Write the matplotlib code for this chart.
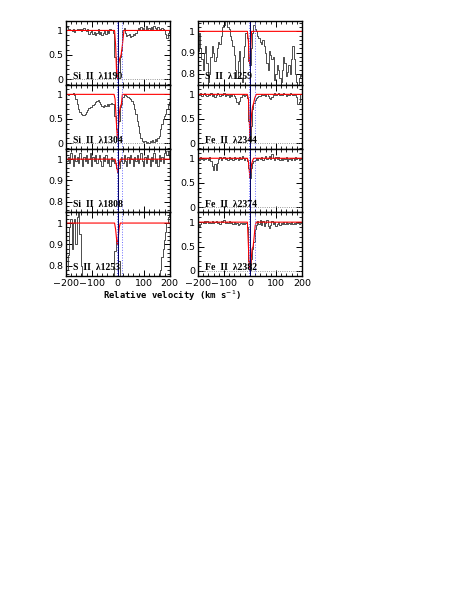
import numpy as np
import matplotlib
matplotlib.use("Agg")
import matplotlib.pyplot as plt
from matplotlib.ticker import MultipleLocator, FuncFormatter

# velocity grid of the spectra (km/s), 5 km/s pixels
vel = np.arange(-200, 205, 5)

# normalised flux, one list per transition
si1190 = [1.05, 1.08, 1.0, 1.03, 1.0, 0.98, 1.02, 0.97, 1.0, 1.04, 1.0, 1.03, 0.99, 1.02, 1.05, 1.0, 0.98,
          1.02, 0.93, 0.97, 1.0, 0.92, 0.96, 0.9, 0.95, 1.02, 0.92, 0.97, 0.9, 0.94, 0.98, 0.92, 1.0, 0.95,
          1.02, 1.0, 1.0, 0.95, 0.45, 0.05, 0.0, 0.15, 0.45, 0.6, 1.0, 1.05, 0.95, 0.88, 0.9, 0.92, 0.86,
          0.88, 0.92, 0.9, 0.94, 1.0, 1.05, 1.0, 1.08, 1.02, 1.05, 1.0, 1.1, 1.03, 1.06, 1.0, 1.08, 1.02,
          1.1, 1.05, 1.0, 1.08, 1.03, 1.0, 1.05, 1.02, 1.0, 0.92, 0.85, 0.95, 1.0]
si1304 = [1.0, 1.0, 0.99, 1.0, 1.0, 1.01, 1.02, 0.98, 0.9, 0.8, 0.7, 0.63, 0.6, 0.58, 0.58, 0.6, 0.63,
          0.68, 0.72, 0.75, 0.74, 0.78, 0.8, 0.84, 0.86, 0.88, 0.85, 0.8, 0.76, 0.74, 0.78, 0.76, 0.8,
          0.77, 0.8, 0.82, 0.8, 0.8, 0.55, 0.3, 0.15, 0.45, 0.75, 0.8, 0.95, 1.0, 0.98, 0.96, 0.95, 0.93,
          0.9, 0.86, 0.8, 0.7, 0.6, 0.45, 0.35, 0.2, 0.1, 0.05, 0.02, 0.04, 0.0, 0.03, 0.01, 0.05, 0.02,
          0.06, 0.03, 0.08, 0.05, 0.1, 0.15, 0.28, 0.4, 0.5, 0.55, 0.6, 0.7, 0.78, 0.85]
si1808 = [1.02, 0.99, 1.01, 0.98, 1.03, 1.0, 0.97, 1.02, 0.99, 1.01, 0.98, 1.03, 1.0, 0.97, 1.01, 0.99,
          1.02, 0.98, 1.0, 1.03, 0.97, 1.01, 0.99, 1.02, 0.98, 1.0, 1.02, 0.99, 0.97, 1.01, 0.99, 1.02,
          0.98, 1.0, 0.97, 1.01, 0.99, 1.0, 0.98, 0.96, 0.94, 0.96, 0.99, 1.01, 0.98, 1.02, 0.99, 0.97,
          1.01, 0.98, 1.02, 1.0, 0.97, 1.01, 0.99, 1.02, 0.98, 1.0, 1.03, 0.99, 0.97, 1.01, 0.98, 1.02,
          1.0, 0.97, 1.01, 0.99, 1.03, 0.98, 1.0, 0.97, 1.02, 0.99, 1.01, 0.98, 1.03, 1.04, 1.02, 1.04, 1.0]
s1253 = [0.8, 0.78, 0.85, 0.98, 1.02, 0.88, 1.0, 1.02, 0.9, 1.03, 1.06, 0.95, 0.8, 0.65, 0.6, 0.6, 0.6,
         0.6, 0.6, 0.6, 0.6, 0.6, 0.6, 0.6, 0.6, 0.6, 0.6, 0.6, 0.6, 0.6, 0.6, 0.6, 0.6, 0.6, 0.6, 0.6,
         0.6, 0.7, 0.87, 0.92, 0.9, 0.82, 0.74, 0.6, 0.6, 0.6, 0.6, 0.6, 0.6, 0.6, 0.6, 0.6, 0.6, 0.6,
         0.6, 0.6, 0.6, 0.6, 0.6, 0.6, 0.6, 0.6, 0.6, 0.6, 0.6, 0.6, 0.6, 0.6, 0.6, 0.6, 0.6, 0.6, 0.7,
         0.78, 0.84, 0.88, 0.92, 0.96, 1.0, 1.03, 1.05]
s1259 = [0.91, 0.99, 0.92, 0.87, 0.82, 0.9, 0.93, 0.85, 0.76, 0.8, 0.88, 0.93, 0.9, 0.86, 0.88, 0.92,
         0.95, 0.94, 0.98, 1.02, 1.03, 1.06, 1.05, 1.02, 1.01, 0.98, 0.96, 0.93, 0.89, 0.82, 0.78, 0.86,
         0.91, 0.78, 0.76, 0.88, 0.93, 0.99, 0.97, 0.86, 0.84, 0.92, 0.99, 1.03, 1.01, 1.0, 0.98, 0.97,
         0.95, 0.94, 0.96, 0.93, 0.9, 0.85, 0.82, 0.91, 0.89, 0.87, 0.88, 0.77, 0.8, 0.84, 0.82, 0.78,
         0.76, 0.82, 0.88, 0.85, 0.79, 0.81, 0.84, 0.8, 0.87, 0.93, 0.87, 0.8, 0.76, 0.74, 0.78, 0.8, 0.79]
fe2344 = [1.0, 0.98, 1.02, 0.97, 1.0, 1.03, 0.99, 0.96, 1.0, 0.98, 1.02, 0.97, 1.0, 0.95, 0.99, 1.02,
          1.0, 0.97, 1.01, 0.98, 1.02, 0.96, 1.0, 0.98, 0.95, 1.0, 0.97, 1.01, 0.97, 0.93, 0.85, 0.8,
          0.86, 0.95, 0.98, 1.0, 0.97, 0.98, 0.92, 0.45, 0.05, 0.35, 0.7, 0.82, 0.88, 0.92, 0.95, 0.97,
          0.96, 1.0, 0.98, 1.01, 0.97, 1.0, 0.96, 0.92, 0.9, 0.94, 0.99, 1.02, 0.98, 1.0, 1.03, 0.99,
          1.01, 0.98, 1.02, 1.0, 0.97, 1.01, 0.99, 1.02, 1.0, 0.98, 1.01, 0.99, 0.95, 0.8, 0.85, 1.0, 1.01]
fe2374 = [1.0, 0.97, 1.02, 0.99, 0.96, 1.01, 0.98, 1.0, 0.97, 1.02, 0.95, 0.85, 0.76, 0.88, 0.75, 0.9,
          0.99, 1.02, 0.97, 1.0, 1.03, 0.98, 1.0, 0.96, 1.02, 0.99, 1.01, 0.97, 1.03, 0.98, 1.0, 0.96,
          1.02, 0.99, 1.05, 1.0, 0.97, 1.01, 0.95, 0.8, 0.6, 0.8, 0.9, 0.95, 0.97, 1.0, 0.96, 1.01, 0.98,
          1.02, 0.97, 1.0, 1.04, 0.98, 1.01, 1.05, 0.99, 1.08, 1.0, 0.97, 1.03, 0.99, 1.02, 0.97, 1.0,
          0.96, 1.01, 0.98, 1.02, 0.95, 0.99, 1.01, 0.96, 1.0, 0.97, 1.02, 0.98, 1.0, 0.96, 1.01, 0.99]
fe2382 = [0.97, 0.93, 0.96, 1.0, 0.98, 1.02, 0.99, 1.03, 0.98, 1.01, 0.99, 1.02, 0.98, 1.0, 1.03, 0.99,
          1.01, 0.97, 1.02, 1.0, 1.04, 0.98, 1.01, 0.99, 1.03, 0.98, 1.0, 0.97, 1.0, 0.96, 0.98, 0.95,
          0.97, 0.99, 0.96, 0.98, 0.97, 0.99, 0.9, 0.2, 0.02, 0.25, 0.45, 0.6, 0.85, 0.95, 1.02, 0.97,
          1.04, 0.95, 1.02, 0.92, 0.98, 1.05, 0.93, 0.88, 0.95, 1.02, 0.97, 1.0, 0.92, 0.97, 1.0, 0.95,
          0.99, 0.96, 1.01, 0.97, 1.0, 0.96, 0.99, 0.97, 1.0, 0.96, 0.99, 0.97, 1.0, 0.98, 0.96, 0.99, 1.0]

# fitted profiles (red), velocity knots and flux
fit_v = {
    "si1190": [-200, -12, -8, -4, -1, 3, 8, 13, 18, 24, 200],
    "si1304": [-200, -14, -10, -6, -2, 0, 3, 6, 10, 14, 18, 200],
    "si1808": [-200, -10, -5, 0, 5, 10, 200],
    "s1253": [-200, -12, -8, -4, -1, 2, 6, 10, 200],
    "s1259": [-200, -10, -6, -3, 0, 3, 6, 200],
    "fe2344": [-200, -10, -6, -3, 0, 3, 6, 10, 14, 18, 24, 200],
    "fe2374": [-200, -10, -6, -3, 0, 3, 6, 10, 14, 200],
    "fe2382": [-200, -10, -6, -3, 0, 4, 8, 12, 16, 20, 24, 200],
}
fit_f = {
    "si1190": [1, 1, 0.7, 0.08, 0.02, 0.3, 0.43, 0.5, 0.7, 1, 1],
    "si1304": [1, 1, 0.9, 0.5, 0.15, 0.12, 0.3, 0.6, 0.75, 0.8, 1, 1],
    "si1808": [1, 1, 0.97, 0.94, 0.97, 1, 1],
    "s1253": [1, 1, 0.97, 0.92, 0.9, 0.93, 0.98, 1, 1],
    "s1259": [1, 1, 0.95, 0.86, 0.85, 0.92, 1, 1],
    "fe2344": [1, 1, 0.9, 0.5, 0.05, 0.3, 0.6, 0.75, 0.82, 0.92, 1, 1],
    "fe2374": [1, 1, 0.93, 0.75, 0.6, 0.72, 0.88, 0.95, 1, 1],
    "fe2382": [1, 1, 0.5, 0.08, 0.02, 0.2, 0.45, 0.5, 0.7, 0.93, 1, 1],
}

labels = {
    "si1190": "Si  II  \u03bb1190", "si1304": "Si  II  \u03bb1304",
    "si1808": "Si  II  \u03bb1808", "s1253": "S  II  \u03bb1253",
    "s1259": "S  II  \u03bb1259", "fe2344": "Fe  II  \u03bb2344",
    "fe2374": "Fe  II  \u03bb2374", "fe2382": "Fe  II  \u03bb2382",
}
spectra = {"si1190": si1190, "si1304": si1304, "si1808": si1808, "s1253": s1253,
           "s1259": s1259, "fe2344": fe2344, "fe2374": fe2374, "fe2382": fe2382}

left_col = ["si1190", "si1304", "si1808", "s1253"]
right_col = ["s1259", "fe2344", "fe2374", "fe2382"]
narrow = ["si1808", "s1253", "s1259"]   # panels zoomed to 0.75-1.05

comp_v = [-4, 18]   # dotted blue component markers

W, H = 474, 614
fig = plt.figure(figsize=(W / 100, H / 100), dpi=100)

x_left = [65.7, 198.0]
pw = 104.0
top = 20.7
ph = 63.9


def fmt(v, pos):
    return "%g" % v


for col, names in enumerate([left_col, right_col]):
    for row, key in enumerate(names):
        x0 = x_left[col]
        y0 = top + row * ph
        ax = fig.add_axes([x0 / W, 1 - (y0 + ph) / H, pw / W, ph / H])

        ax.plot(vel, spectra[key], drawstyle="steps-mid", color="#303030", lw=0.6)
        ax.plot(fit_v[key], fit_f[key], color="red", lw=0.8)
        ax.axhline(0, color="#777777", ls=":", lw=0.6)
        for cv in comp_v:
            ax.axvline(cv, color="#6a6aff", ls=":", lw=0.7)
        ax.axvline(0, color="#000066", lw=0.7)

        ax.set_xlim(-200, 200)
        if key in narrow:
            ax.set_ylim(0.75, 1.05)
            ax.yaxis.set_major_locator(MultipleLocator(0.1))
            ax.yaxis.set_minor_locator(MultipleLocator(0.02))
        else:
            ax.set_ylim(-0.11, 1.2)
            ax.yaxis.set_major_locator(MultipleLocator(0.5))
            ax.yaxis.set_minor_locator(MultipleLocator(0.1))
        ax.yaxis.set_major_formatter(FuncFormatter(fmt))
        ax.xaxis.set_major_locator(MultipleLocator(100))
        ax.xaxis.set_minor_locator(MultipleLocator(20))
        ax.tick_params(which="both", direction="in", top=True, right=True, labelsize=6.8, pad=2)
        ax.tick_params(which="major", length=4.5, width=0.7)
        ax.tick_params(which="minor", length=2.3, width=0.6)
        for sp in ax.spines.values():
            sp.set_linewidth(1.0)
        if row < 3:
            ax.tick_params(labelbottom=False)
        else:
            ax.xaxis.set_major_formatter(FuncFormatter(lambda v, p: "%d" % v if v >= 0 else "\u2212%d" % -v))

        ax.text(0.07, 0.06, labels[key], transform=ax.transAxes, fontsize=7,
                family="Liberation Serif", fontweight="bold", va="bottom", ha="left")

fig.text(172.5 / W, 1 - 296 / H, "Relative velocity (km s$^{-1}$)", ha="center", va="center",
         family="DejaVu Sans Mono", fontsize=6.4, fontweight="bold")

fig.savefig("out.png", dpi=100)
